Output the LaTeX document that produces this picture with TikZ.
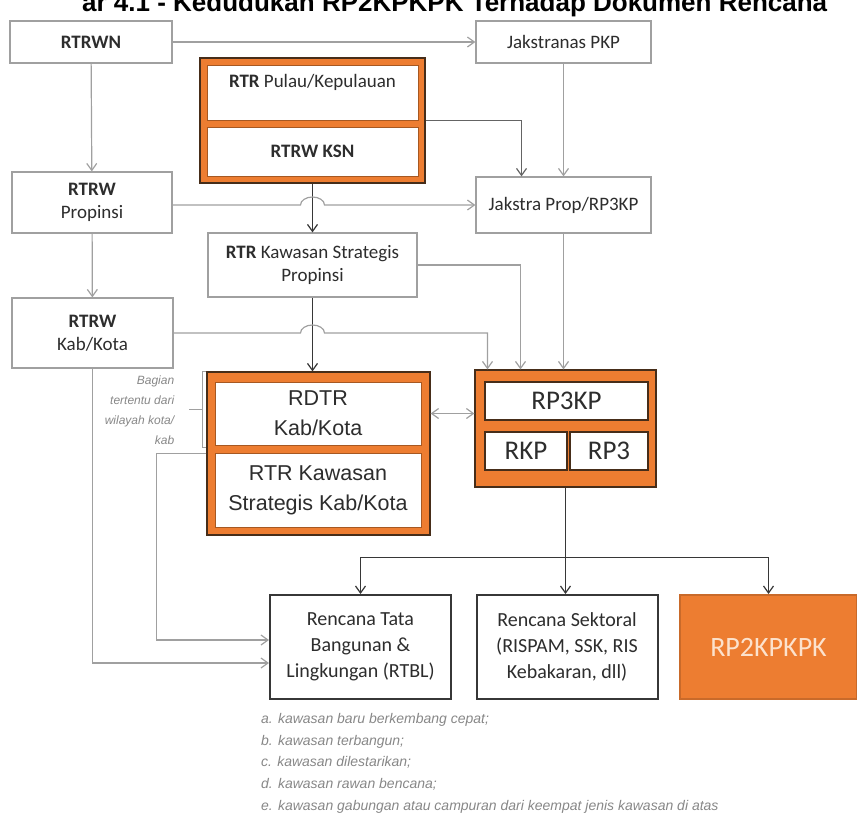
\documentclass[tikz,border=0pt]{standalone}
\usepackage{fontspec}
\setmainfont{Carlito}
\newfontfamily\arialfont{Liberation Sans}
\usetikzlibrary{arrows.meta,positioning,calc}

\definecolor{oranye}{RGB}{237,125,49}
\definecolor{coklat}{RGB}{70,45,25}
\definecolor{garis}{RGB}{160,160,160}
\definecolor{garissedang}{RGB}{100,100,100}
\definecolor{garisgelap}{RGB}{55,55,55}
\definecolor{teks}{RGB}{45,45,45}
\definecolor{catatan}{RGB}{135,135,135}
\definecolor{persik}{RGB}{252,226,205}

\begin{document}
\begin{tikzpicture}[x=1pt, y=-1pt,
		topbox/.style={rectangle, draw=garis, line width=1.2pt, fill=white, text=teks, align=center, inner sep=0pt, font=\fontsize{19}{23}\selectfont},
		orangeframe/.style={rectangle, draw=coklat, line width=1.2pt, fill=oranye, inner sep=0pt},
		innerbox/.style={rectangle, draw=oranye!70!black, line width=0.8pt, fill=white, text=teks, align=center, inner sep=0pt},
		smalltext/.style={font=\fontsize{19}{23}\selectfont},
		bigtext/.style={font=\arialfont\fontsize{21.5}{30}\selectfont},
		rpbox/.style={rectangle, draw=coklat, line width=2.2pt, fill=white, text=teks, inner sep=0pt, font=\fontsize{27}{30}\selectfont},
		bottombox/.style={rectangle, draw=garisgelap, line width=2pt, fill=white, text=teks, align=center, inner sep=0pt, font=\fontsize{20}{26}\selectfont, minimum width=181pt, minimum height=104pt},
		arrow/.style={-{Straight Barb[length=7pt,width=10pt]}, line width=1.2pt, draw=garis},
		midarrow/.style={arrow, draw=garissedang},
		darkarrow/.style={arrow, draw=garisgelap},
		twoway/.style={arrow, {Straight Barb[length=7pt,width=10pt]}-{Straight Barb[length=7pt,width=10pt]}},
		bracket/.style={line width=1pt, draw=garis},
		note/.style={font=\arialfont\fontsize{12}{20}\selectfont\itshape, text=catatan, inner sep=0pt}
		]
		\useasboundingbox (0,0) rectangle (857,815);

		% Title, cut at the top edge
		\begin{scope}
			\clip (0,0) rectangle (857,815);
			\node[anchor=base west, inner sep=0pt, text=black, font=\arialfont\bfseries\fontsize{26}{30}\selectfont] (judul) at (82,11) {ar 4.1 - Kedudukan RP2KPKPK Terhadap Dokumen Rencana};
		\end{scope}

		% National level
		\node[topbox, minimum width=162pt, minimum height=42pt] (rtrwn) at (91,42) {\textbf{RTRWN}};
		\node[topbox, minimum width=175pt, minimum height=42pt] (jaknas) at (563.5,42) {Jakstranas PKP};

		% RTR Pulau / RTRW KSN
		\node[orangeframe, minimum width=225pt, minimum height=125pt] (pulau) at (312.5,120.5) {};
		\node[innerbox, smalltext, minimum width=211pt, minimum height=55pt, text height=12pt, text depth=23pt] (pulauin) at (312.5,92.5) {\textbf{RTR} Pulau/Kepulauan};
		\node[innerbox, smalltext, minimum width=211pt, minimum height=49pt] (ksn) at (312.5,151.5) {\textbf{RTRW KSN}};

		% Province level
		\node[topbox, minimum width=160pt, minimum height=61pt] (rtrwprop) at (92,202.5) {\textbf{RTRW}\\Propinsi};
		\node[topbox, minimum width=175pt, minimum height=56pt] (jakprop) at (563.5,205) {Jakstra Prop/RP3KP};
		\node[topbox, minimum width=209pt, minimum height=64pt] (ksprop) at (312.5,265) {\textbf{RTR} Kawasan Strategis\\Propinsi};

		% Kab/Kota level
		\node[topbox, minimum width=161pt, minimum height=70pt] (rtrwkab) at (92.5,333) {\textbf{RTRW}\\Kab/Kota};

		% RDTR / RTR Kawasan Strategis Kab/Kota
		\node[orangeframe, minimum width=223pt, minimum height=163pt] (rdtr) at (318.5,453.5) {};
		\node[innerbox, bigtext, minimum width=206pt, minimum height=63pt] (rdtrin) at (318,413.5) {RDTR\\Kab/Kota};
		\node[innerbox, bigtext, minimum width=206pt, minimum height=74pt] (kskab) at (318,490) {RTR Kawasan\\Strategis Kab/Kota};

		% RP3KP
		\node[orangeframe, minimum width=181pt, minimum height=117pt] (rp3kp) at (565.5,428.5) {};
		\node[rpbox, minimum width=163pt, minimum height=38pt] (rp3kpin) at (566.5,401) {RP3KP};
		\node[rpbox, minimum width=82pt, minimum height=38pt] (rkp) at (526,451) {RKP};
		\node[rpbox, minimum width=78pt, minimum height=38pt] (rp3) at (609,451) {RP3};

		% Bottom row
		\node[bottombox] (rtbl) at (360.5,647) {Rencana Tata\\Bangunan \&\\Lingkungan (RTBL)};
		\node[bottombox] (sektoral) at (567,647) {Rencana Sektoral\\(RISPAM, SSK, RIS\\Kebakaran, dll)};
		\node[bottombox, fill=oranye, draw=oranye!85!black, minimum width=177pt, text=persik, font=\fontsize{28}{30}\selectfont] (rp2) at (768.5,647) {RP2KPKPK};

		% Notes
		\node[note, anchor=north east, align=right] (bagian) at ([xshift=-32pt,yshift=-4pt]rdtr.north west) {Bagian\\tertentu dari\\wilayah kota/\\kab};
		\node[note, anchor=north west, align=left, font=\arialfont\fontsize{14}{21.7}\selectfont\itshape] (kawasan) at ([xshift=-8pt,yshift=-13pt]rtbl.south west) {a. kawasan baru berkembang cepat;\\b. kawasan terbangun;\\c. kawasan dilestarikan;\\d. kawasan rawan bencana;\\e. kawasan gabungan atau campuran dari keempat jenis kawasan di atas};

		% Arrows at the top
		\draw[arrow] (rtrwn) -- (jaknas);
		\draw[arrow] (rtrwn) -- (rtrwprop);
		\draw[arrow] (jaknas) -- (jakprop);
		\draw[midarrow] (pulau.east) -| ([xshift=-42pt]jakprop.north);

		% Strategic area chain
		\draw[darkarrow] (pulau) -- (ksprop);
		\draw[darkarrow] (ksprop) -- (ksprop.south |- rdtr.north);

		% Lines hopping over the chain
		\draw[arrow] (rtrwprop.east |- jakprop.west) -- ([xshift=-12pt]pulau.south |- jakprop.west) arc[start angle=180, end angle=0, x radius=12pt, y radius=8pt] -- (jakprop.west);
		\draw[arrow] (rtrwprop) -- (rtrwkab);
		\draw[arrow] (rtrwkab.east) -- ([xshift=-12pt]ksprop.south |- rtrwkab.east) arc[start angle=180, end angle=0, x radius=12pt, y radius=8pt] -| ([xshift=-78pt]rp3kp.north);

		% Into RP3KP
		\draw[arrow] (ksprop.east) -| ([xshift=-45pt]rp3kp.north);
		\draw[arrow] (jakprop) -- (jakprop.south |- rp3kp.north);
		\draw[twoway] (rdtr.east |- rdtrin.east) -- (rp3kp.west |- rdtrin.east);

		% Bracket for the RDTR part
		\draw[bracket] (rdtr.north west) -- ++(-4,0) -- ++(0,76) -- ++(4,0);
		\draw[bracket] ([xshift=-4pt,yshift=-38pt]rdtr.north west) -- ++(-13,0);

		% From RP3KP down to the bottom row
		\coordinate (cabang) at ([yshift=-70pt]rp3kp.south);
		\draw[darkarrow] (rp3kp) -- (rp3kp.south |- sektoral.north);
		\draw[darkarrow] (cabang) -| (rtbl.north);
		\draw[darkarrow] (cabang) -| (rp2.north);

		% Into RTBL from the left
		\draw[arrow] (rdtr.west) -- ++(-50,0) |- ([yshift=7pt]rtbl.west);
		\draw[arrow] (rtrwkab) |- ([yshift=-16pt]rtbl.west);

	\end{tikzpicture}
\end{document}
